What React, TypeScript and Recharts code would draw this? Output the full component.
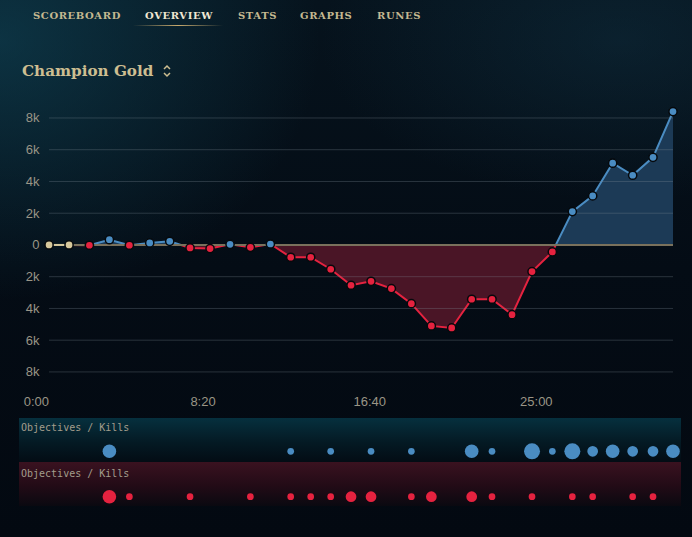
import React from 'react';
import {
  ComposedChart, Area, Line, XAxis, YAxis, ReferenceLine,
  ScatterChart, Scatter, ZAxis,
} from 'recharts';

// frame timestamps (seconds) and team gold difference (blue minus red)
const frameTimes = [38, 98, 159, 219, 279, 340, 400, 461, 521, 581, 642, 702, 763, 823, 883, 944,
  1004, 1065, 1125, 1185, 1246, 1306, 1367, 1427, 1487, 1548, 1608, 1669, 1729, 1789, 1850, 1910];
const goldDiff = [0, 0, -20, 330, -20, 130, 230, -190, -230, 40, -150, 60, -775, -775, -1530, -2540,
  -2290, -2750, -3700, -5100, -5230, -3420, -3420, -4390, -1680, -440, 2100, 3090, 5150, 4390, 5520, 8400];

const yTicks = [-8000, -6000, -4000, -2000, 0, 2000, 4000, 6000, 8000];
const xTicks = [0, 500, 1000, 1500];

// objectives / kills per frame (frame index, bubble size)
const blueEventFrames = [3, 12, 14, 16, 18, 21, 22, 24, 25, 26, 27, 28, 29, 30, 31];
const blueEventSizes = [3, 1, 1, 1, 1, 3, 1, 4, 1, 4, 2, 3, 2, 2, 3];
const redEventFrames = [3, 4, 7, 10, 12, 13, 14, 15, 16, 18, 19, 21, 22, 24, 26, 27, 29, 30];
const redEventSizes = [3, 1, 1, 1, 1, 1, 1, 2, 2, 1, 2, 2, 1, 1, 1, 1, 1, 1];

const tabs = ['SCOREBOARD', 'OVERVIEW', 'STATS', 'GRAPHS', 'RUNES'];

const BLUE = '#4a8cc2';
const RED = '#e5223f';
const TAN = '#d6c89c';
const GOLD = '#cdbe91';

const data = frameTimes.map((t, i) => ({
  t,
  diff: goldDiff[i],
  neutral: goldDiff[i] === 0 ? 0 : null,
}));

const blueEvents = blueEventFrames.map((f, k) => ({ t: frameTimes[f], team: 1, n: blueEventSizes[k] }));
const redEvents = redEventFrames.map((f, k) => ({ t: frameTimes[f], team: 0, n: redEventSizes[k] }));

const maxV = Math.max(...goldDiff);
const minV = Math.min(...goldDiff);
const off = maxV / (maxV - minV);

const fmtTime = (s: number) => `${Math.floor(s / 60)}:${String(s % 60).padStart(2, '0')}`;
const fmtK = (v: number) => (v === 0 ? '0' : `${Math.abs(v) / 1000}k`);
const dotColor = (v: number) => (v > 0 ? BLUE : v < 0 ? RED : TAN);

const first = frameTimes[0];
const last = frameTimes[frameTimes.length - 1];

const tabLeft = [33, 145, 238, 300, 377];

export default function App() {
  return (
    <div
      style={{
        position: 'absolute', left: 0, top: 0, width: 692, height: 537, overflow: 'hidden',
        background:
          'radial-gradient(ellipse 320px 260px at 0px 40px, rgba(18,78,98,0.55), rgba(18,78,98,0) 100%),' +
          'radial-gradient(ellipse 300px 160px at 620px 40px, rgba(20,60,80,0.35), rgba(20,60,80,0) 100%),' +
          'linear-gradient(180deg, #06131d 0%, #040c15 50%, #030911 100%)',
        fontFamily: '"Liberation Sans", Arial, sans-serif',
      }}
    >
      {tabs.map((t, i) => (
        <div
          key={t}
          style={{
            position: 'absolute', left: tabLeft[i], top: 9, fontFamily: '"DejaVu Serif", serif',
            fontWeight: 700, fontSize: 10, letterSpacing: 0.6, lineHeight: '14px',
            color: t === 'OVERVIEW' ? '#f0e6d2' : '#c4b890',
          }}
        >
          {t}
        </div>
      ))}
      <div
        style={{
          position: 'absolute', left: 133, top: 25, width: 90, height: 1,
          background: 'linear-gradient(90deg, rgba(200,170,110,0), #c8aa6e 50%, rgba(200,170,110,0))',
        }}
      />
      <div
        style={{
          position: 'absolute', left: 22, top: 61, fontFamily: '"DejaVu Serif", serif', fontWeight: 700,
          fontSize: 15.2, lineHeight: '20px', color: GOLD,
        }}
      >
        Champion Gold
      </div>
      <svg style={{ position: 'absolute', left: 162, top: 64 }} width={10} height={14}>
        <polyline points="2,5 5,2 8,5" fill="none" stroke={GOLD} strokeWidth={1.5} />
        <polyline points="2,9 5,12 8,9" fill="none" stroke={GOLD} strokeWidth={1.5} />
      </svg>

      <div style={{ position: 'absolute', left: 0, top: 0 }}>
        <ComposedChart width={692} height={420} data={data} margin={{ top: 102.1, right: 19, bottom: 2.2, left: 0 }}>
          <defs>
            <linearGradient id="splitFill" x1="0" y1="0" x2="0" y2="1">
              <stop offset={off} stopColor="#1c3a56" />
              <stop offset={off} stopColor="#4a1526" />
            </linearGradient>
            <linearGradient id="splitStroke" x1="0" y1="0" x2="0" y2="1">
              <stop offset={off} stopColor={BLUE} />
              <stop offset={off} stopColor={RED} />
            </linearGradient>
          </defs>
          <XAxis
            dataKey="t" type="number" domain={[0, last]} ticks={xTicks} tickFormatter={fmtTime}
            axisLine={false} tickLine={false} tickSize={0} tickMargin={9} height={30}
            tick={{ fill: '#9a9586', fontSize: 13 }}
          />
          <YAxis
            type="number" domain={[-9000, 9000]} ticks={yTicks} width={36.4}
            axisLine={false} tickLine={false} tickSize={0} tickMargin={0}
            tick={(p: any) => (
              <text key={p.payload.value} x={p.x + 3} y={p.y} dy={4.5} textAnchor="end" fill="#9a9586" fontSize={13}>
                {fmtK(p.payload.value)}
              </text>
            )}
          />
          <Area
            type="linear" dataKey="diff" baseValue={0} stroke="url(#splitStroke)" strokeWidth={2}
            fill="url(#splitFill)" fillOpacity={1} dot={false} activeDot={false} isAnimationActive={false}
          />
          {yTicks.filter((v) => v !== 0).map((v) => (
            <ReferenceLine
              key={v}
              segment={[{ x: first, y: v }, { x: last, y: v }]}
              stroke="rgba(130,142,152,0.3)" strokeWidth={1}
            />
          ))}
          <ReferenceLine segment={[{ x: first, y: 0 }, { x: last, y: 0 }]} stroke="#7a715c" strokeWidth={2} />
          <Line
            type="linear" dataKey="neutral" stroke={TAN} strokeWidth={2} dot={false} activeDot={false}
            connectNulls={false} isAnimationActive={false}
          />
          <Line
            type="linear" dataKey="diff" stroke="none" activeDot={false} isAnimationActive={false}
            dot={(p: any) => (
              <circle
                key={`dot-${p.index}`} cx={p.cx} cy={p.cy} r={4.1}
                fill={dotColor(p.value)} stroke="#06090c" strokeWidth={1.5}
              />
            )}
          />
        </ComposedChart>
      </div>

      <div
        style={{
          position: 'absolute', left: 19, top: 418, width: 662, height: 44,
          background: 'linear-gradient(180deg, #06303e 0%, #041a24 55%, #030c14 100%)',
        }}
      />
      <div
        style={{
          position: 'absolute', left: 19, top: 462, width: 662, height: 44,
          background: 'linear-gradient(180deg, #3a1220 0%, #220b16 55%, #0a0910 100%)',
        }}
      />
      {[428, 474].map((y) => (
        <div
          key={y}
          style={{
            position: 'absolute', left: 21, top: y - 7, fontFamily: '"DejaVu Sans Mono", monospace',
            fontSize: 10, lineHeight: '14px', color: '#a39d8c',
          }}
        >
          Objectives / Kills
        </div>
      ))}

      <div style={{ position: 'absolute', left: 0, top: 410 }}>
        <ScatterChart width={692} height={110} margin={{ top: 41.3, right: 19, bottom: 23.3, left: 36.4 }}>
          <XAxis dataKey="t" type="number" domain={[0, last]} hide />
          <YAxis dataKey="team" type="number" domain={[0, 1]} hide width={0} />
          <ZAxis dataKey="n" type="number" domain={[1, 4]} range={[35, 201]} />
          <Scatter data={blueEvents} fill={BLUE} isAnimationActive={false} />
          <Scatter data={redEvents} fill={RED} isAnimationActive={false} />
        </ScatterChart>
      </div>
    </div>
  );
}
